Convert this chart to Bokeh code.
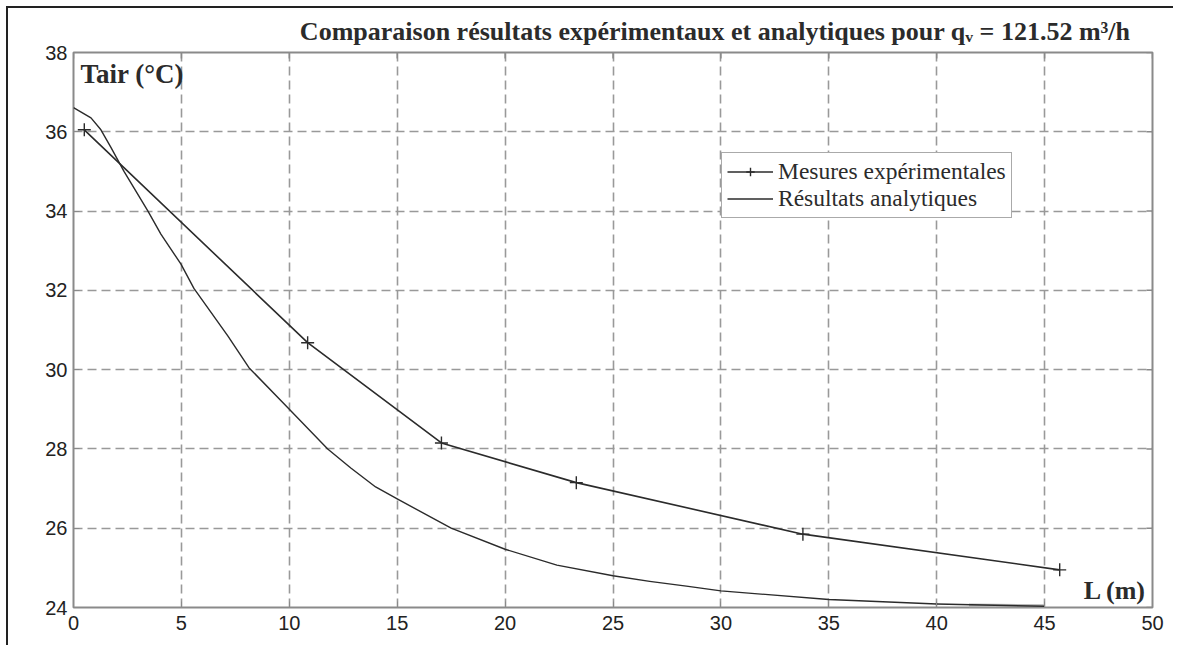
from bokeh.plotting import figure
from bokeh.models import Range1d, FixedTicker, Legend, LegendItem, Title
from bokeh.core.properties import value
from bokeh.embed import file_html
from bokeh.resources import INLINE

# measured air temperature along the duct (with + markers)
meas_x = [0.5, 10.85, 17.05, 23.3, 33.8, 45.7]
meas_y = [36.05, 30.68, 28.15, 27.15, 25.85, 24.95]

# analytical solution
ana_x = [0, 0.81, 1.27, 1.74, 2.34, 3.45, 4.05, 4.98, 5.58, 7.15, 8.13, 10,
         11.78, 12.85, 14.0, 15, 17.5, 20, 22.4, 25, 26.7, 28.4, 30, 35, 40, 45]
ana_y = [36.61, 36.35, 36.05, 35.6, 35.0, 34.0, 33.42, 32.66, 32.05, 30.85, 30.05,
         29.0, 28.0, 27.52, 27.04, 26.74, 26.0, 25.47, 25.07, 24.8, 24.66, 24.54,
         24.42, 24.2, 24.09, 24.03]

# grey smear where the analytical curve merges with the axis
smear_x = [41.5, 45]
smear_top = [24.1, 24.08]
smear_bot = [24.0, 24.0]

x_ticks = [0, 5, 10, 15, 20, 25, 30, 35, 40, 45, 50]
y_ticks = [24, 26, 28, 30, 32, 34, 36, 38]

title_text = "Comparaison résultats expérimentaux et analytiques pour qᵥ = 121.52 m³/h"
serif = "Liberation Serif"
sans = "Liberation Sans"
ink = "#2b2b2b"
frame_grey = "#8a8a8a"

x0, x1, y0, y1 = 0, 50, 24, 38

p = figure(width=1167, height=639, output_backend="svg", toolbar_location=None,
           x_range=Range1d(x0, x1), y_range=Range1d(y0, y1),
           min_border_left=65, min_border_right=23,
           min_border_top=44, min_border_bottom=40,
           styles={"margin-left": "6px", "margin-top": "6px",
                   "border-left": "2px solid #222", "border-top": "2px solid #222"})

p.title = Title(text=title_text, align="right", offset=22, standoff=10,
                vertical_align="top", text_font=serif,
                text_font_style="bold", text_font_size="26px", text_color=ink)

p.outline_line_color = frame_grey
p.outline_line_width = 2

for ax in (p.xaxis[0], p.yaxis[0]):
    ax.axis_line_color = None
    ax.major_tick_in = 6
    ax.major_tick_out = 0
    ax.major_tick_line_color = frame_grey
    ax.minor_tick_line_color = None
    ax.major_label_text_font = sans
    ax.major_label_text_font_size = "20px"
    ax.major_label_text_color = "#222222"
p.xaxis.major_label_standoff = 8
p.yaxis.major_label_standoff = 6
p.xaxis.ticker = FixedTicker(ticks=x_ticks)
p.yaxis.ticker = FixedTicker(ticks=y_ticks)

p.xgrid.ticker = FixedTicker(ticks=x_ticks)
p.ygrid.ticker = FixedTicker(ticks=y_ticks)
p.grid.grid_line_color = "#999999"
p.grid.grid_line_width = 1.6
p.grid.grid_line_dash = "9 5"

# inward box ticks on the top and right edges
p.segment(x0=x_ticks, y0=[y1] * len(x_ticks), x1=x_ticks, y1=[y1 - 0.15] * len(x_ticks),
          line_color=frame_grey, line_width=1.5)
p.segment(x0=[x1] * len(y_ticks), y0=y_ticks, x1=[x1 - 0.28] * len(y_ticks), y1=y_ticks,
          line_color=frame_grey, line_width=1.5)

p.varea(x=smear_x, y1=smear_bot, y2=smear_top, fill_color="#b5b5b5")

ana_line = p.line(ana_x, ana_y, line_color=ink, line_width=1.4, line_join="round")
meas_line = p.line(meas_x, meas_y, line_color=ink, line_width=1.6, line_join="round")
meas_pts = p.scatter(meas_x, meas_y, marker="cross", size=13, line_color=ink, line_width=1.4)

p.text(x=[0.32], y=[37.47], text=["Tair (°C)"], text_font=value(serif),
       text_font_style="bold", text_font_size="27px", text_color=ink,
       text_baseline="middle", text_align="left")
p.text(x=[49.72], y=[24.43], text=["L (m)"], text_font=value(serif),
       text_font_style="bold", text_font_size="26px", text_color=ink,
       text_baseline="middle", text_align="right")

legend = Legend(items=[LegendItem(label="Mesures expérimentales", renderers=[meas_line, meas_pts]),
                       LegendItem(label="Résultats analytiques", renderers=[ana_line])],
                location=(648, 389), padding=5, spacing=0, margin=0,
                glyph_width=46, glyph_height=21, label_height=21, label_standoff=5,
                label_text_font=serif, label_text_font_size="23.5px", label_text_color=ink,
                border_line_color="#555555", border_line_width=1.5,
                background_fill_color="white", background_fill_alpha=1.0)
p.add_layout(legend, "center")

open("out.html", "w").write(file_html(p, INLINE))
